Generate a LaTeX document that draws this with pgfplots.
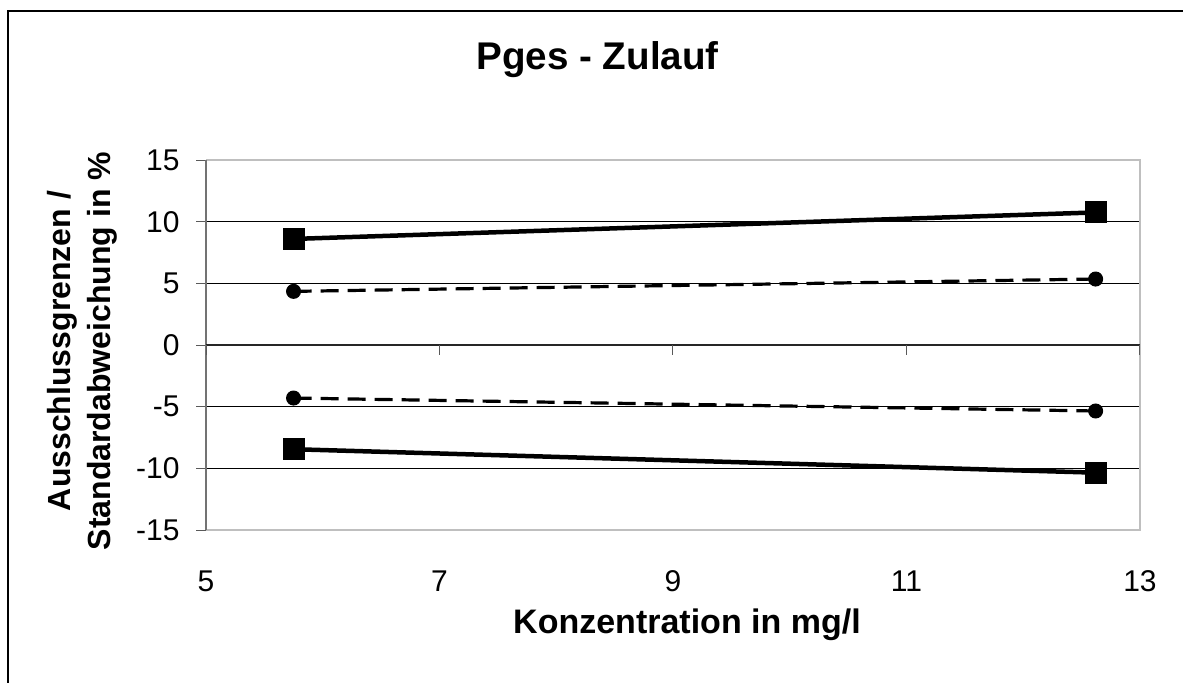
\documentclass[border=0pt]{standalone}
\usepackage{fontspec}
\setmainfont{Liberation Sans}
\usepackage{pgfplots}
\pgfplotsset{compat=1.18}
\begin{document}
\begin{tikzpicture}
\useasboundingbox (0,0) rectangle (591.5pt,341pt);
% chart frame (cut at right and bottom)
\draw[black, line width=0.75pt] (4pt,-5pt) -- (4pt,335.5pt) -- (600pt,335.5pt);
\begin{axis}[
  at={(103pt,76pt)}, anchor=south west,
  scale only axis, width=467pt, height=185pt,
  xmin=5, xmax=13, ymin=-15, ymax=15,
  xtick={5,7,9,11,13}, ytick={-15,-10,...,15},
  axis line style={draw=none},
  tick align=outside, tick pos=left,
  major tick length=5pt,
  ytick style={draw=black!65, line width=0.5pt},
  xtick style={draw=none},
  ymajorgrids, grid style={black, line width=0.5pt},
  ticklabel style={font=\fontsize{15}{18}\selectfont, inner sep=0pt},
  yticklabel style={anchor=east, xshift=-8pt},
  xticklabel style={anchor=north, yshift=-15pt},
  /pgf/number format/assume math mode=true,
  clip=false,
]
% plot area border and x axis at zero
\draw[black!25, line width=1pt] (rel axis cs:0,1) -- (rel axis cs:1,1) -- (rel axis cs:1,0) -- (rel axis cs:0,0);
\draw[black!55, line width=1pt] (rel axis cs:0,0) -- (rel axis cs:0,1);
\draw[black!85, line width=0.6pt] (axis cs:5,0) -- (axis cs:13,0);
\draw[black!65, line width=0.5pt] (axis cs:5,0) -- ([yshift=-5pt]axis cs:5,0);
\draw[black!65, line width=0.5pt] (axis cs:7,0) -- ([yshift=-5pt]axis cs:7,0);
\draw[black!65, line width=0.5pt] (axis cs:9,0) -- ([yshift=-5pt]axis cs:9,0);
\draw[black!65, line width=0.5pt] (axis cs:11,0) -- ([yshift=-5pt]axis cs:11,0);
\draw[black!65, line width=0.5pt] (axis cs:13,0) -- ([yshift=-5pt]axis cs:13,0);
% Ausschlussgrenzen
\addplot[black, line width=2.25pt, mark=square*, mark size=5.25pt,
  mark options={solid, line width=0.5pt}] coordinates {(5.75,8.6) (12.62,10.75)};
\addplot[black, line width=2.25pt, mark=square*, mark size=5.25pt,
  mark options={solid, line width=0.5pt}] coordinates {(5.75,-8.45) (12.62,-10.35)};
% Standardabweichung
\addplot[black, line width=1.6pt, dash pattern=on 9pt off 4.5pt, mark=*, mark size=3.5pt,
  mark options={solid, line width=0.5pt}] coordinates {(5.75,4.35) (12.62,5.35)};
\addplot[black, line width=1.6pt, dash pattern=on 9pt off 4.5pt, mark=*, mark size=3.5pt,
  mark options={solid, line width=0.5pt}] coordinates {(5.75,-4.3) (12.62,-5.35)};
\end{axis}
\node[anchor=base, font=\bfseries\fontsize{19.3}{23}\selectfont] at (298.75pt,306pt) {Pges - Zulauf};
\node[anchor=base, font=\bfseries\fontsize{17}{20}\selectfont] at (343.5pt,24.5pt) {Konzentration in mg/l};
\node[rotate=90, align=center, font=\bfseries\fontsize{16}{20}\selectfont] at (41pt,165.5pt)
  {Ausschlussgrenzen /\\Standardabweichung in \%};
\end{tikzpicture}
\end{document}
